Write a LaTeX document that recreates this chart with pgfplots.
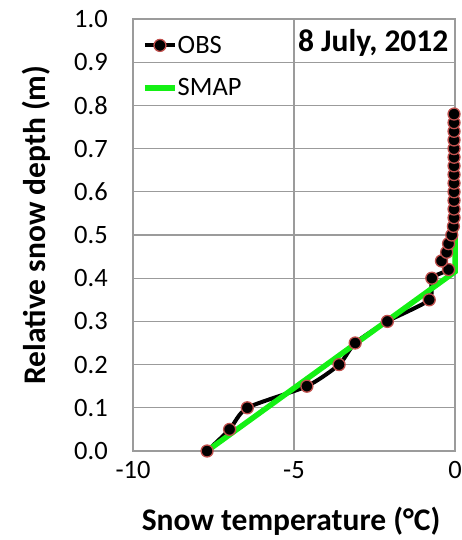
\documentclass[border=0pt]{standalone}
\usepackage{fontspec}
\setmainfont{Carlito}
\usepackage{pgfplots}
\pgfplotsset{compat=1.18}
\definecolor{gridgray}{RGB}{155,155,155}
\definecolor{mkedge}{RGB}{192,80,77}
\definecolor{smapgreen}{RGB}{20,240,20}
\begin{document}
\begin{tikzpicture}[x=1pt,y=1pt]
\useasboundingbox (-133,-89) rectangle (329,451);
\begin{axis}[
  at={(0,0)}, anchor=south west,
  scale only axis, width=322pt, height=432pt,
  xmin=-10, xmax=0, ymin=0, ymax=1,
  clip=false,
  xtick={-10,-5,0},
  ytick={0,0.1,0.2,0.3,0.4,0.5,0.6,0.7,0.8,0.9,1.0},
  yticklabel style={/pgf/number format/fixed, /pgf/number format/fixed zerofill, /pgf/number format/precision=1},
  /pgf/number format/assume math mode=true,
  major tick length=0pt,
  tick style={draw=none},
  grid=major,
  grid style={gridgray, line width=1.3pt},
  axis line style={gridgray, line width=1.3pt},
  ticklabel style={font=\fontsize{26.5}{30}\selectfont},
  xticklabel style={anchor=base, yshift=-27pt},
  yticklabel style={anchor=east, inner sep=0pt, xshift=-25pt},
  xlabel={Snow temperature (°C)},
  ylabel={Relative snow depth (m)},
  xlabel style={at={(axis description cs:0.491,-0.185)}, anchor=base, font=\fontsize{31.5}{36}\selectfont\bfseries},
  ylabel style={at={(axis description cs:-0.272,0.523)}, anchor=base, font=\fontsize{31.5}{36}\selectfont\bfseries},
  legend style={at={(axis description cs:0.028,0.961)}, anchor=north west, draw=none, fill=none,
    font=\fontsize{26.5}{30}\selectfont, inner sep=0pt, row sep=24pt,
    nodes={inner sep=0pt}},
  legend cell align=left,
  legend image code/.code={\draw[mark repeat=2,mark phase=2,#1] plot coordinates {(0pt,0pt) (15pt,0pt) (30pt,0pt)};},
]
\addplot[black, line width=4pt, smooth, tension=0.4, mark=*, mark size=6pt,
  mark options={fill=black, draw=mkedge, line width=1.3pt, solid}] coordinates {
  (-7.7,0.00) (-7.0,0.05) (-6.45,0.10) (-4.6,0.15) (-3.6,0.20) (-3.1,0.25)
  (-2.1,0.30) (-0.8,0.35) (-0.72,0.40) (-0.2,0.42) (-0.42,0.44) (-0.26,0.46)
  (-0.2,0.48) (-0.1,0.50) (-0.05,0.52) (-0.03,0.54) (-0.03,0.56) (-0.03,0.58)
  (-0.03,0.60) (-0.03,0.62) (-0.03,0.64) (-0.03,0.66) (-0.03,0.68) (-0.03,0.70)
  (-0.03,0.72) (-0.03,0.74) (-0.03,0.76) (-0.03,0.78)
};
\addlegendentry{OBS}
\addplot[smapgreen, line width=5.5pt] coordinates {(-7.7,0) (0,0.415) (0,0.78)};
\addlegendentry{SMAP}
\node[anchor=base, font=\fontsize{31.5}{36}\selectfont\bfseries] at (axis cs:-2.54,0.924) {8 July, 2012};
\end{axis}
\end{tikzpicture}
\end{document}
